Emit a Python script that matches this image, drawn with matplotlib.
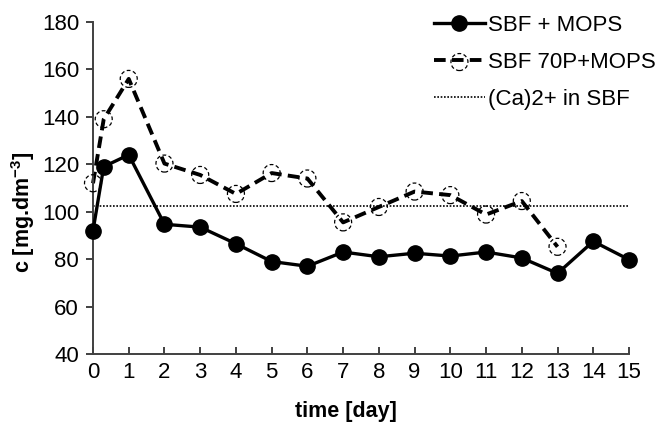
import matplotlib
matplotlib.use('Agg')
import matplotlib.pyplot as plt
from matplotlib.lines import Line2D
from matplotlib.legend_handler import HandlerTuple

plt.rcParams['font.family'] = ['Liberation Sans', 'DejaVu Sans']
plt.rcParams['mathtext.fontset'] = 'custom'
plt.rcParams['mathtext.rm'] = 'Liberation Sans'
plt.rcParams['mathtext.bf'] = 'Liberation Sans:bold'

# 数据
t_mops = [0, 0.3, 1, 2, 3, 4, 5, 6, 7, 8, 9, 10, 11, 12, 13, 14, 15]
c_mops = [92, 119, 124, 94.7, 93.5, 86.5, 79, 77, 83, 81, 82.5, 81.3, 83, 80.5, 74, 87.5, 79.8]
t_70p = [0, 0.3, 1, 2, 3, 4, 5, 6, 7, 8, 9, 10, 11, 12, 13]
c_70p = [112, 139, 156, 120.3, 115.5, 107.5, 116.3, 114, 95.5, 102, 108.5, 107, 98.8, 104.5, 85.2]
ca_sbf = 102.5
x_ticks = list(range(0, 16))
y_ticks = [40, 60, 80, 100, 120, 140, 160, 180]

fig = plt.figure(figsize=(6.57, 4.33), dpi=100)
ax = fig.add_axes([93 / 657, 1 - 354 / 433, 536 / 657, 332 / 433])

# 参考线
ax.plot([0, 15], [ca_sbf, ca_sbf], color='black', lw=1.2, ls=(0, (1, 1)), zorder=1)

# SBF 70P+MOPS
l2, = ax.plot(t_70p, c_70p, color='black', lw=2.8, ls=(0, (3, 1.6)), zorder=2, clip_on=False)
s2 = ax.scatter(t_70p, c_70p, s=150, facecolors='none', edgecolors='black',
                linewidths=0.9, linestyles=(0, (3, 2)), zorder=3, clip_on=False)

# SBF + MOPS
l1, = ax.plot(t_mops, c_mops, color='black', lw=2.4, marker='o', ms=11,
              zorder=4, clip_on=False)

ax.set_xlim(0, 15)
ax.set_ylim(40, 180)
ax.set_xticks(x_ticks)
ax.set_yticks(y_ticks)
for sp in ['top', 'right']:
    ax.spines[sp].set_visible(False)
for sp in ['left', 'bottom']:
    ax.spines[sp].set_color('#404040')
    ax.spines[sp].set_linewidth(1.4)
ax.tick_params(axis='x', direction='in', length=5, width=1.4, color='#404040',
               labelsize=16, pad=6)
ax.tick_params(axis='y', direction='out', length=5, width=1.4, color='#404040',
               labelsize=16, pad=5)

fig.text(346 / 657, 1 - 412 / 433, 'time [day]', fontsize=15.5, fontweight='bold',
         ha='center', va='center')
fig.text(23 / 657, 1 - 212 / 433, r'c [mg.dm$^{\mathbf{-3}}$]', fontsize=15.5,
         fontweight='bold', rotation=90, ha='center', va='center')

ref = Line2D([], [], color='black', lw=1.2, ls=(0, (1, 1)))
leg = ax.legend([l1, (l2, s2), ref], ['SBF + MOPS', 'SBF 70P+MOPS', '(Ca)2+ in SBF'],
                handler_map={tuple: HandlerTuple(ndivide=1)},
                loc='upper left', bbox_to_anchor=(425 / 657, 1 - 6 / 433),
                bbox_transform=fig.transFigure, frameon=False, fontsize=16,
                handlelength=2.3, handletextpad=0.15, labelspacing=0.72, borderaxespad=0)

fig.savefig('out.png', dpi=100)
